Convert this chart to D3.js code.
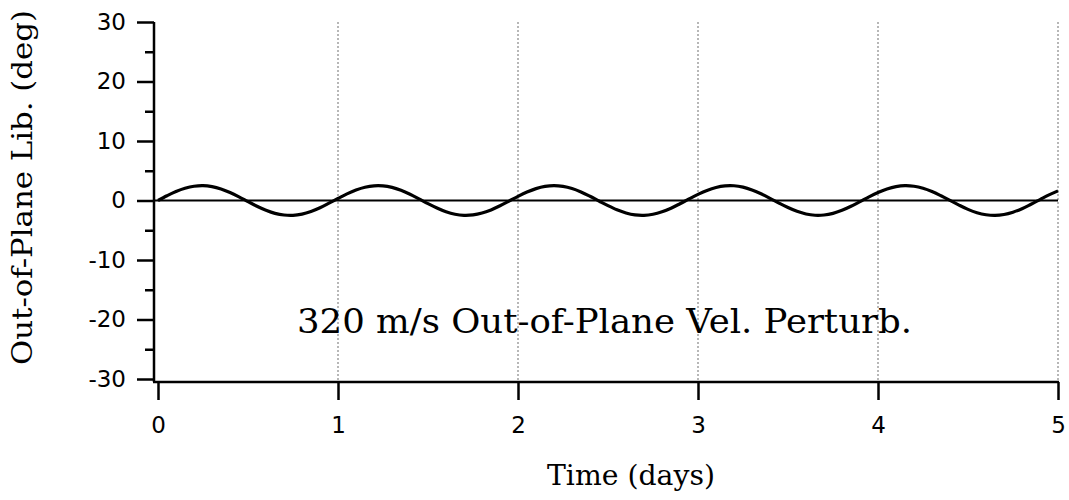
<!DOCTYPE html>
<html><head><meta charset="utf-8">
<script src="https://cdn.jsdelivr.net/npm/d3@7"></script>
<style>body{margin:0;background:#fff}</style>
</head><body>
<svg id="c" width="1069" height="500"></svg>
<script>
const days = d3.range(0, 101).map(i => i * 0.05);
const libDeg = [0,0.79,1.50,2.05,2.40,2.50,2.34,1.95,1.35,0.62,-0.18,-0.96,-1.64,-2.16,-2.44,-2.49,-2.28,-1.84,-1.22,-0.45,
0.35,1.12,1.76,2.23,2.47,2.46,2.20,1.71,1.05,0.27,-0.53,-1.26,-1.89,-2.31,-2.49,-2.42,-2.11,-1.58,-0.88,-0.10,
0.70,1.42,2.00,2.37,2.50,2.37,2.01,1.43,0.71,-0.08,-0.87,-1.57,-2.10,-2.42,-2.49,-2.31,-1.90,-1.30,-0.54,
0.26,1.03,1.70,2.19,2.46,2.48,2.24,1.78,1.13,0.37,-0.43,-1.18,-1.82,-2.27,-2.48,-2.44,-2.16,-1.65,-0.97,-0.19,
0.61,1.34,1.94,2.34,2.50,2.40,2.06,1.51,0.80,0.02,-0.77,-1.49,-2.05,-2.39,-2.50,-2.35,-1.96,-1.38,-0.63,0.16,0.94,1.62];
const xTicks = [0,1,2,3,4,5];
const yTicks = [-30,-20,-10,0,10,20,30];
const yMinor = [-25,-15,-5,5,15,25];
const gridDays = [1,2,3,4,5];
const title = "320 m/s Out-of-Plane Vel. Perturb.";
const xLabel = "Time (days)";
const yLabel = "Out-of-Plane Lib. (deg)";

const svg = d3.select("#c");
const x = d3.scaleLinear().domain([0,5]).range([158,1058]);
const y = d3.scaleLinear().domain([-30,30]).range([379,22]);
const axisX = 154, axisY = 382;
const fmt = d => String(d);

// grid
svg.append("g").selectAll("line").data(gridDays).join("line")
  .attr("x1", d=>x(d)).attr("x2", d=>x(d)).attr("y1", y(30)).attr("y2", axisY)
  .attr("stroke", "#888").attr("stroke-width", 1.2).attr("stroke-dasharray", "2,2");

// zero line
svg.append("line").attr("x1", axisX).attr("x2", x(5)).attr("y1", y(0)).attr("y2", y(0))
  .attr("stroke", "#000").attr("stroke-width", 2);

// curve
svg.append("path").datum(days.map((d,i)=>[d, libDeg[i]]))
  .attr("fill","none").attr("stroke","#000").attr("stroke-width",3.2)
  .attr("d", d3.line().x(d=>x(d[0])).y(d=>y(d[1])).curve(d3.curveCatmullRom));

// y axis
const gy = svg.append("g").attr("transform", `translate(${axisX},0)`);
gy.call(d3.axisLeft(y).tickValues(yTicks).tickSize(17).tickPadding(11).tickFormat(fmt));
gy.append("g").call(d3.axisLeft(y).tickValues(yMinor).tickSize(9).tickFormat("")).select(".domain").remove();
gy.select("path.domain").attr("d", `M0,${y(30)}V${axisY}`);
gy.selectAll("line").attr("stroke-width", 2.5);
gy.selectAll("path").attr("stroke-width", 2.5);
gy.attr("font-size", 23).attr("font-family", "DejaVu Sans");

// x axis
const gx = svg.append("g").attr("transform", `translate(0,${axisY})`);
gx.call(d3.axisBottom(x).tickValues(xTicks).tickSize(18).tickPadding(17).tickFormat(fmt));
gx.select(".domain").attr("d", `M${axisX-1},0H${x(5)+1}`).attr("stroke-width", 2.5);
gx.selectAll("line").attr("stroke-width", 2.5);
gx.attr("font-size", 23).attr("font-family", "DejaVu Sans");

// texts
svg.append("text").attr("x", 297).attr("y", 333).attr("textLength", 615).attr("lengthAdjust","spacingAndGlyphs")
  .attr("font-family","DejaVu Serif").attr("font-size",33).text(title);
svg.append("text").attr("x", 547).attr("y", 485).attr("textLength", 168).attr("lengthAdjust","spacingAndGlyphs")
  .attr("font-family","DejaVu Serif").attr("font-size",27).text(xLabel);
svg.append("text").attr("transform","translate(32,365) rotate(-90)").attr("textLength", 355).attr("lengthAdjust","spacingAndGlyphs")
  .attr("font-family","DejaVu Serif").attr("font-size",27).text(yLabel);
</script>
</body></html>
